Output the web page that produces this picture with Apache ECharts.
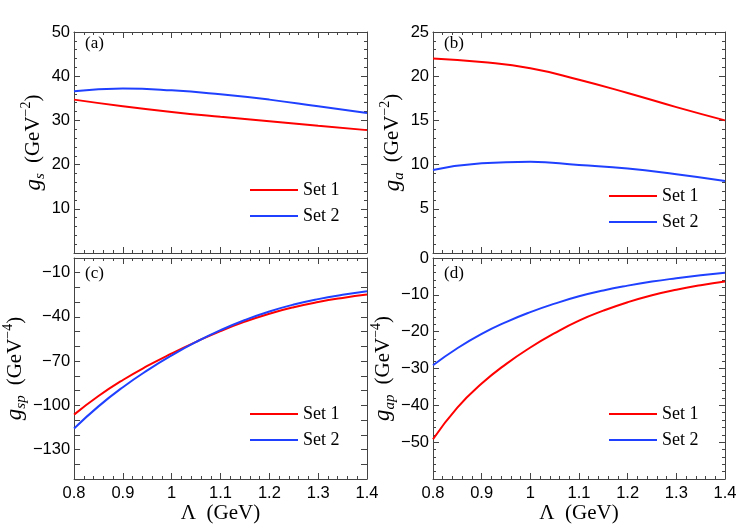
<!DOCTYPE html>
<html>
<head>
<meta charset="utf-8">
<script src="https://cdn.jsdelivr.net/npm/echarts@6/dist/echarts.min.js"></script>
<style>
html, body { margin: 0; padding: 0; background: #fff; }
#chart { width: 747px; height: 528px; }
</style>
</head>
<body>
<div id="chart"></div>
<script>
// Lambda (GeV) grid
var lambdaAB = [0.8, 0.9, 1.0, 1.1, 1.2, 1.3, 1.4];
var lambdaCD = [0.8, 0.85, 0.9, 0.95, 1.0, 1.05, 1.1, 1.15, 1.2, 1.25, 1.3, 1.35, 1.4];

// (a) g_s
var gsSet1 = [34.7, 33.2, 31.9, 30.8, 29.8, 28.8, 27.8];
var gsSet2 = [36.6, 37.2, 36.8, 35.9, 34.7, 33.2, 31.7];
// (b) g_a
var gaSet1 = [22.0, 21.6, 20.9, 19.6, 18.1, 16.5, 15.0];
var gaSet2 = [9.4, 10.15, 10.33, 9.95, 9.55, 8.9, 8.15];
// (c) g_sp
var gspSet1 = [-106.3, -93.7, -82.8, -73.3, -64.8, -56.9, -49.6, -43.2, -37.8, -33.4, -29.9, -27.1, -24.8];
var gspSet2 = [-115.7, -100.7, -87.7, -76.3, -66.1, -57.0, -49.0, -42.1, -36.3, -31.6, -27.9, -25.0, -22.6];
// (d) g_ap
var gapSet1 = [-49.2, -40.6, -34.1, -28.8, -24.3, -20.4, -17.0, -14.3, -12.0, -10.1, -8.6, -7.4, -6.4];
var gapSet2 = [-29.1, -24.5, -20.6, -17.4, -14.7, -12.4, -10.4, -8.8, -7.5, -6.4, -5.5, -4.7, -4.0];

// tick labels
var gspLabels = [-130, -100, -70, -40, -10];

var RED = '#ff0000', BLUE = '#2040ff', AX = '#444444';
var SANS = 'Liberation Sans', SERIF = 'Liberation Serif';

function pairs(xs, ys) {
    return xs.map(function (x, i) { return [x, ys[i]]; });
}
function minus(v) { return String(v).replace('-', '\u2212'); }

var grids = [
    { left: 74, top: 32, width: 293, height: 221 },
    { left: 433, top: 32, width: 292, height: 221 },
    { left: 74, top: 258, width: 293, height: 221 },
    { left: 433, top: 258, width: 292, height: 221 }
];

var richName = {
    i: { fontFamily: SERIF, fontStyle: 'italic', fontSize: 23, lineHeight: 28, verticalAlign: 'middle', color: '#000' },
    s: { fontFamily: SERIF, fontStyle: 'italic', fontSize: 15, lineHeight: 15, verticalAlign: 'bottom', color: '#000' },
    n: { fontFamily: SERIF, fontSize: 21, lineHeight: 28, verticalAlign: 'middle', color: '#000' },
    p: { fontFamily: SERIF, fontSize: 14, lineHeight: 14, verticalAlign: 'top', color: '#000' }
};

// split lines kept on but invisible
function tickStyle(minor) {
    return {
        axisTick: { show: true, inside: true, length: 6 },
        minorTick: { show: minor > 0, splitNumber: minor || 5, length: 3 },
        splitLine: { show: true, lineStyle: { color: 'rgba(0,0,0,0)' } }
    };
}

function xAxes(g, showLabels) {
    var base = Object.assign({
        type: 'value', gridIndex: g, min: 0.8, max: 1.4, interval: 0.1,
        axisLine: { show: true, onZeroAxisIndex: 8 + g, lineStyle: { color: AX } }
    }, tickStyle(5));
    var bottom = Object.assign({}, base, {
        position: 'bottom',
        axisLabel: {
            show: showLabels, margin: 6, color: '#000', fontFamily: SANS, fontSize: 16.5,
            formatter: function (v) { return String(+v.toFixed(1)); }
        },
        name: showLabels ? '{n|\u039b  (GeV)}' : '',
        nameLocation: 'middle', nameGap: 20,
        nameTextStyle: { rich: { n: { fontFamily: SERIF, fontSize: 21, color: '#000' } } }
    });
    var top = Object.assign({}, base, { position: 'top', axisLabel: { show: false } });
    return [bottom, top];
}

function yAxes(g, min, max, interval, name, gap, extra) {
    var base = Object.assign({
        type: 'value', gridIndex: g, min: min, max: max, interval: interval,
        axisLine: { show: true, lineStyle: { color: AX } }
    }, tickStyle(extra.minor));
    var label = {
        margin: 4, color: '#000', fontFamily: SANS, fontSize: 16.5,
        showMinLabel: extra.showMin, showMaxLabel: true, formatter: minus
    };
    if (extra.labels) label.customValues = extra.labels;
    var left = Object.assign({}, base, {
        position: 'left', axisLabel: label,
        name: name, nameLocation: 'middle', nameRotate: 90, nameGap: gap,
        nameTextStyle: { rich: richName }
    });
    var right = Object.assign({}, base, { position: 'right', axisLabel: { show: false } });
    return [left, right];
}

function hiddenY(g) {
    return { type: 'value', gridIndex: g, min: 1, max: 2, show: false };
}

var xAxis = [].concat(xAxes(0, false), xAxes(1, false), xAxes(2, true), xAxes(3, true));
var yAxis = [].concat(
    yAxes(0, 0, 50, 10, '{i|g}{s|s}   {n|(GeV}{p|\u22122}{n|)}', 20, { minor: 5, showMin: false }),
    yAxes(1, 0, 25, 5, '{i|g}{s|a}   {n|(GeV}{p|\u22122}{n|)}', 23, { minor: 5, showMin: false }),
    yAxes(2, -150, 0, 10, '{i|g}{s|sp}   {n|(GeV}{p|\u22124}{n|)}', 37, { minor: 0, showMin: true, labels: gspLabels }),
    yAxes(3, -60, 0, 10, '{i|g}{s|ap}   {n|(GeV}{p|\u22124}{n|)}', 31, { minor: 5, showMin: false }),
    [hiddenY(0), hiddenY(1), hiddenY(2), hiddenY(3)]
);

function line(name, g, color, xs, ys) {
    return {
        name: name, type: 'line', xAxisIndex: 2 * g, yAxisIndex: 2 * g,
        data: pairs(xs, ys), smooth: true, symbol: 'none', showSymbol: false,
        lineStyle: { color: color, width: 2 }, itemStyle: { color: color }
    };
}

var series = [
    line('Set 1', 0, RED, lambdaAB, gsSet1),
    line('Set 2', 0, BLUE, lambdaAB, gsSet2),
    line('Set 1', 1, RED, lambdaAB, gaSet1),
    line('Set 2', 1, BLUE, lambdaAB, gaSet2),
    line('Set 1', 2, RED, lambdaCD, gspSet1),
    line('Set 2', 2, BLUE, lambdaCD, gspSet2),
    line('Set 1', 3, RED, lambdaCD, gapSet1),
    line('Set 2', 3, BLUE, lambdaCD, gapSet2)
];

function legendAt(left, top) {
    return {
        data: ['Set 1', 'Set 2'], orient: 'vertical', left: left, top: top,
        icon: 'rect', itemWidth: 48, itemHeight: 2, itemGap: 8, selectedMode: false,
        textStyle: { fontFamily: SERIF, fontSize: 18, color: '#000', lineHeight: 14 }
    };
}

function panelTag(text, x, y) {
    return {
        type: 'text', left: x, top: y,
        style: { text: text, fill: '#000', font: '17px "Liberation Serif"' }
    };
}

var myChart = echarts.init(document.getElementById('chart'));
var option = {
    animation: false,
    backgroundColor: '#fff',
    grid: grids,
    xAxis: xAxis,
    yAxis: yAxis,
    legend: [
        legendAt(245, 176),
        legendAt(604, 182),
        legendAt(245, 400),
        legendAt(604, 400)
    ],
    graphic: [
        panelTag('(a)', 85, 35),
        panelTag('(b)', 444, 35),
        panelTag('(c)', 85, 265),
        panelTag('(d)', 444, 265)
    ],
    series: series
};
myChart.setOption(option);
</script>
</body>
</html>
